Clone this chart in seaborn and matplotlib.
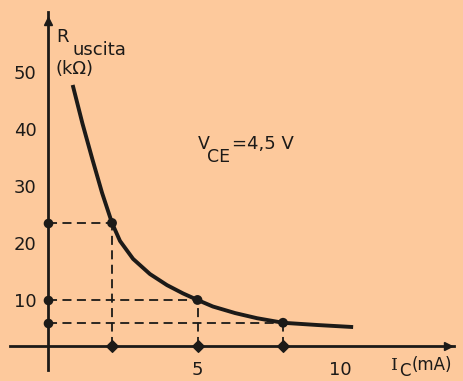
#!/usr/bin/env python3
"""Output resistance vs collector current (V_CE = 4,5 V)"""
import pandas as pd
import seaborn as sns
from matplotlib import pyplot as plt

# values
ic_curve = [0.62, 0.96, 1.31, 1.65, 2.0, 2.28, 2.74, 3.33, 3.93, 4.49,
            5.0, 5.54, 6.32, 7.09, 8.0, 9.23, 10.46]
r_curve = [47.7, 41.0, 34.7, 28.8, 23.5, 20.35, 17.2, 14.55, 12.6, 11.15,
           10.0, 8.85, 7.7, 6.8, 6.0, 5.6, 5.25]
ic_points = [2, 5, 8]
r_points = [23.5, 10, 6]
y_ticks = [10, 20, 30, 40, 50]
x_labels = [5, 10]
x_minor = [1, 2, 3, 4, 5, 6, 7, 8]

BG = "#fdc99c"
INK = "#1c1a18"

sns.set_style("white")
plt.rcParams["font.family"] = ["DejaVu Sans"]

fig = plt.figure(figsize=(4.64, 3.81), dpi=100, facecolor=BG)
ax = fig.add_axes([0, 0, 1, 1], facecolor=BG)
ax.set_xlim(-1.93, 14.35)
ax.set_ylim(-4.21, 62.6)

x0, y0 = -0.25, 1.93  # where the drawn axes cross

curve = pd.DataFrame({"ic": ic_curve, "r": r_curve})
sns.lineplot(data=curve, x="ic", y="r", ax=ax, color=INK, lw=2.8,
             sort=False, solid_capstyle="butt", solid_joinstyle="round")

# dashed guides from the marked points to the axes
for xi, yi in zip(ic_points, r_points):
    ax.plot([x0, xi], [yi, yi], ls=(0, (5, 3)), color=INK, lw=1.3)
    ax.plot([xi, xi], [y0, yi], ls=(0, (5, 3)), color=INK, lw=1.3)

pts = pd.DataFrame({"ic": ic_points, "r": r_points})
sns.scatterplot(data=pts, x="ic", y="r", ax=ax, color=INK, s=50,
                edgecolor="none", zorder=5)
ax.scatter(ic_points, [y0] * 3, color=INK, s=35, marker="D", zorder=5)
ax.scatter([x0] * 3, r_points, color=INK, s=35, zorder=5)

# axes drawn as in the original figure
for side in ["top", "right"]:
    ax.spines[side].set_visible(False)
ax.spines["left"].set_position(("data", x0))
ax.spines["bottom"].set_position(("data", y0))
ax.spines["left"].set_bounds(-2.3, 60.5)
ax.spines["bottom"].set_bounds(-1.58, 14.0)
for side in ["left", "bottom"]:
    ax.spines[side].set_color(INK)
    ax.spines[side].set_linewidth(2.0)
ax.plot([x0], [59.0], marker="^", color=INK, ms=6, clip_on=False)
ax.plot([13.8], [y0], marker=">", color=INK, ms=6, clip_on=False)

ax.set_yticks(y_ticks)
ax.set_yticklabels([str(v) for v in y_ticks])
ax.tick_params(axis="y", direction="out", length=5, width=1.2, color=INK,
               pad=3, labelsize=13, labelcolor=INK)
ax.set_xticks(x_labels)
ax.set_xticklabels([str(v) for v in x_labels])
ax.set_xticks(x_minor, minor=True)
ax.tick_params(axis="x", which="major", length=0, pad=11, labelsize=13,
               labelcolor=INK)
ax.tick_params(axis="x", which="minor", direction="out", length=4,
               width=1.2, color=INK)
ax.set_xlabel("")
ax.set_ylabel("")

# labels
ax.text(0.05, 55.3, "R", fontsize=13, color=INK, ha="left", va="baseline")
ax.text(0.60, 53.0, "uscita", fontsize=13, color=INK, ha="left",
        va="baseline")
ax.text(0.0, 49.6, "(kΩ)", fontsize=13, color=INK, ha="left", va="baseline")

ax.text(5.0, 36.5, "V", fontsize=12.5, color=INK, ha="left", va="baseline")
ax.text(5.33, 34.2, "CE", fontsize=12.5, color=INK, ha="left",
        va="baseline")
ax.text(6.2, 36.5, "=4,5 V", fontsize=13, color=INK, ha="left",
        va="baseline")

ax.text(11.8, -2.2, "I", fontsize=12.5, color=INK, ha="left",
        va="baseline", family="DejaVu Serif")
ax.text(12.08, -3.3, "C", fontsize=12, color=INK, ha="left",
        va="baseline")
ax.text(12.5, -2.2, "(mA)", fontsize=12, color=INK, ha="left",
        va="baseline")

fig.savefig("out.png", dpi=100, facecolor=BG)
